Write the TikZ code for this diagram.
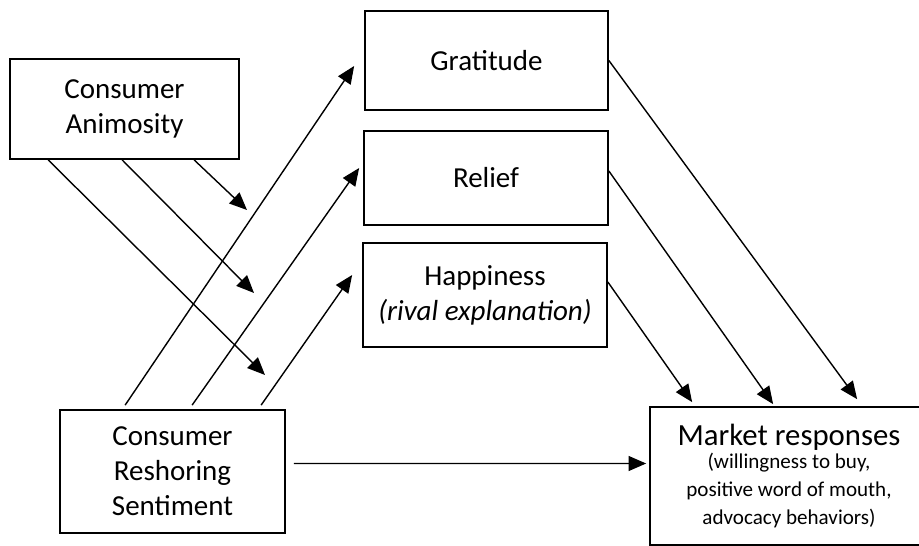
\documentclass[tikz,border=0pt]{standalone}
\usepackage{fontspec}
\setmainfont{Carlito}
\usetikzlibrary{arrows.meta}

\begin{document}
\begin{tikzpicture}[x=0.02cm, y=-0.02cm,
    box/.style={draw, line width=1pt, align=center, inner sep=0pt, font=\fontsize{16.5}{20}\selectfont},
    arr/.style={line width=0.8pt, -{Triangle[length=10pt, width=8.5pt]}}]
    \clip (0,0) rectangle (919,546);

    % boxes
    \node[box, minimum width=4.58cm, minimum height=2.0cm] (anim) at (124.5,109) {Consumer\\Animosity};
    \node[box, minimum width=4.86cm, minimum height=1.98cm] (grat) at (486.5,60.5) {Gratitude};
    \node[box, minimum width=4.88cm, minimum height=1.88cm] (relief) at (486,178) {Relief};
    \node[box, minimum width=4.88cm, minimum height=2.08cm] (happy) at (485,295) {Happiness\\\textit{(rival explanation)}};
    \node[box, minimum width=4.5cm, minimum height=2.46cm] (reshore) at (172.5,471.5) {Consumer\\Reshoring\\Sentiment};
    \node[box, minimum width=5.56cm, minimum height=2.76cm, font=\fontsize{12}{16}\selectfont] (market) at (789,476)
        {\fontsize{17.5}{20}\selectfont Market responses\\[-3pt]
         (willingness to buy,\\ positive word of mouth,\\ advocacy behaviors)};

    % free ends of the moderating arrows
    \coordinate (m1) at (265,375);
    \coordinate (m2) at (254,293);
    \coordinate (m3) at (247,210);

    % animosity -> paths
    \draw[arr] ([xshift=0.78cm]anim.south west) -- (m1);
    \draw[arr] ([xshift=2.26cm]anim.south west) -- (m2);
    \draw[arr] ([xshift=3.7cm]anim.south west) -- (m3);

    % sentiment -> emotions
    \draw[arr] ([xshift=1.32cm, yshift=0.08cm]reshore.north west) -- ([xshift=-0.2cm, yshift=-0.11cm]grat.west);
    \draw[arr] ([xshift=2.66cm, yshift=0.08cm]reshore.north west) -- ([xshift=-0.08cm, yshift=0.2cm]relief.west);
    \draw[arr] ([xshift=4.04cm, yshift=0.08cm]reshore.north west) -- ([xshift=-0.2cm, yshift=0.4cm]happy.west);

    % emotions -> market responses
    \draw[arr] (grat.east) -- ([xshift=4.16cm, yshift=0.14cm]market.north west);
    \draw[arr] ([yshift=0.14cm]relief.east) -- ([xshift=2.48cm, yshift=0.04cm]market.north west);
    \draw[arr] ([yshift=0.26cm]happy.east) -- ([xshift=0.86cm, yshift=0.08cm]market.north west);

    % direct effect
    \draw[arr] ([xshift=0.16cm, yshift=0.16cm]reshore.east) -- ([xshift=-0.06cm, yshift=0.25cm]market.west);
\end{tikzpicture}
\end{document}
